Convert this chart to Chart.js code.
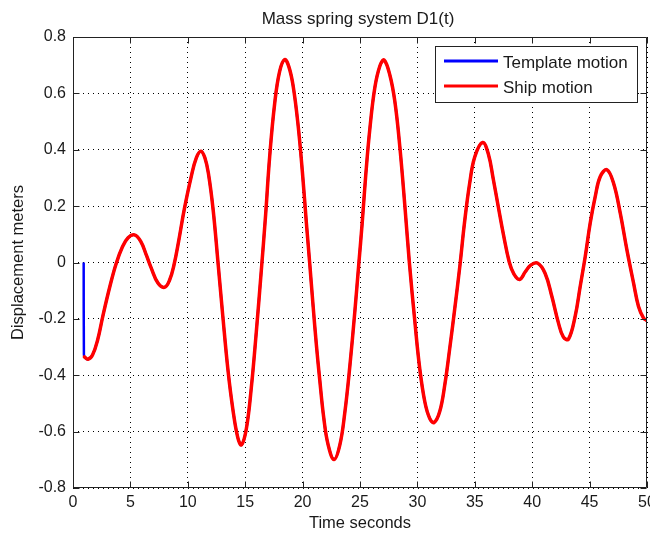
<!DOCTYPE html>
<html>
<head>
<meta charset="utf-8">
<title>Mass spring system D1(t)</title>
<script src="https://cdn.jsdelivr.net/npm/chart.js@4/dist/chart.umd.min.js"></script>
<style>
  html, body { margin: 0; padding: 0; background: #ffffff; }
  #wrap { width: 650px; height: 533px; }
  canvas { display: block; }
</style>
</head>
<body>
<div id="wrap"><canvas id="chart" width="650" height="533"></canvas></div>
<script>
// Time samples (seconds) and displacement (meters) of the ship response
const timeSec = [
  1.0, 1.3, 1.7, 2.15, 2.6, 3.2, 3.75, 4.3, 4.8, 5.35,
  5.9, 6.4, 6.8, 7.4, 7.97, 8.4, 8.8, 9.2, 9.7, 10.3,
  10.75, 11.15, 11.5, 11.8, 12.2, 12.62, 13.05, 13.5, 13.93, 14.36,
  14.68, 15.1, 15.53, 15.97, 16.4, 16.78, 17.13, 17.57, 18.0, 18.44,
  18.8, 19.17, 19.6, 19.98, 20.33, 20.62, 20.9, 21.2, 21.49, 21.84,
  22.22, 22.74, 23.24, 23.67, 24.11, 24.55, 24.9, 25.2, 25.51, 25.86,
  26.29, 26.73, 27.1, 27.6, 28.04, 28.47, 28.91, 29.3, 29.78, 30.2,
  30.65, 31.07, 31.45, 31.95, 32.4, 32.8, 33.25, 33.7, 34.1, 34.55,
  35.0, 35.68, 36.18, 36.6, 37.05, 37.5, 38.0, 38.4, 38.9, 39.4,
  39.85, 40.45, 41.12, 41.71, 42.29, 42.72, 43.16, 43.74, 44.18, 44.62,
  45.05, 45.49, 45.93, 46.51, 47.09, 47.67, 48.25, 48.83, 49.26, 49.7,
  50.0
];
const shipDisp = [
  -0.335, -0.343, -0.328, -0.274, -0.19, -0.087, -0.005, 0.055, 0.088, 0.098,
  0.075, 0.025, -0.018, -0.073, -0.088, -0.064, -0.008, 0.075, 0.19, 0.305,
  0.372, 0.395, 0.37, 0.315, 0.19, 0.005, -0.19, -0.382, -0.522, -0.622,
  -0.647, -0.59, -0.445, -0.245, -0.03, 0.17, 0.375, 0.565, 0.678, 0.72,
  0.695, 0.628, 0.49, 0.322, 0.14, -0.003, -0.147, -0.292, -0.415, -0.55,
  -0.646, -0.699, -0.648, -0.535, -0.37, -0.174, -0.003, 0.145, 0.315, 0.475,
  0.62, 0.697, 0.718, 0.665, 0.57, 0.41, 0.2, 0.0, -0.21, -0.375,
  -0.495, -0.553, -0.568, -0.528, -0.43, -0.31, -0.165, -0.012, 0.14, 0.28,
  0.375, 0.426, 0.385, 0.298, 0.197, 0.098, 0.002, -0.04, -0.06, -0.033,
  -0.01, -0.002, -0.038, -0.12, -0.215, -0.265, -0.272, -0.191, -0.085, 0.021,
  0.139, 0.234, 0.305, 0.329, 0.281, 0.175, 0.045, -0.073, -0.156, -0.197,
  -0.206
];
// The template starts at rest and jumps onto the same trajectory
const templateTime = [0.93, 0.95].concat(timeSec);
const templateDisp = [0, -0.32].concat(shipDisp);

const seriesNames = ['Template motion', 'Ship motion'];
const seriesColors = ['#0000ff', '#ff0000'];

const xTicks = [0, 5, 10, 15, 20, 25, 30, 35, 40, 45, 50];
const xTickLabels = ['0', '5', '10', '15', '20', '25', '30', '35', '40', '45', '50'];
const yTicks = [-0.8, -0.6, -0.4, -0.2, 0, 0.2, 0.4, 0.6, 0.8];
const yTickLabels = ['-0.8', '-0.6', '-0.4', '-0.2', '0', '0.2', '0.4', '0.6', '0.8'];

const chartTitle = 'Mass spring system D1(t)';
const xAxisTitle = 'Time seconds';
const yAxisTitle = 'Displacement meters';

const FONT = '"Liberation Sans", Arial, Helvetica, sans-serif';
const INK = '#1a1a1a';

function toPoints(xs, ys) {
  return xs.map((x, i) => ({ x: x, y: ys[i] }));
}

// Axes frame, inward tick marks, title and boxed legend
const framePlugin = {
  id: 'frame',
  afterDraw(chart) {
    const ctx = chart.ctx;
    const a = chart.chartArea;
    const xs = chart.scales.x, ys = chart.scales.y;
    const L = Math.round(a.left) + 0.5, R = Math.round(a.right) - 0.5;
    const T = Math.round(a.top) + 0.5, B = Math.round(a.bottom) - 0.5;
    const tick = 6;
    ctx.save();
    ctx.strokeStyle = '#222222';
    ctx.lineWidth = 1;
    ctx.setLineDash([]);
    ctx.beginPath();
    ctx.rect(L, T, R - L, B - T);
    xTicks.forEach(v => {
      const px = Math.round(xs.getPixelForValue(v)) + 0.5;
      ctx.moveTo(px, B); ctx.lineTo(px, B - tick);
      ctx.moveTo(px, T); ctx.lineTo(px, T + tick);
    });
    yTicks.forEach(v => {
      const py = Math.round(ys.getPixelForValue(v)) + 0.5;
      ctx.moveTo(L, py); ctx.lineTo(L + tick, py);
      ctx.moveTo(R, py); ctx.lineTo(R - tick, py);
    });
    ctx.stroke();

    // title
    ctx.fillStyle = INK;
    ctx.font = '17px ' + FONT;
    ctx.textAlign = 'center';
    ctx.textBaseline = 'alphabetic';
    ctx.fillText(chartTitle, (a.left + a.right) / 2 - 2, 24);

    // legend
    const lx = 435.5, ly = 46.5, lw = 202, lh = 56;
    ctx.fillStyle = '#ffffff';
    ctx.fillRect(lx, ly, lw, lh);
    ctx.strokeStyle = '#222222';
    ctx.strokeRect(lx, ly, lw, lh);
    chart.data.datasets.forEach((ds, i) => {
      const yy = 61 + i * 25;
      ctx.strokeStyle = ds.borderColor;
      ctx.lineWidth = 3;
      ctx.beginPath();
      ctx.moveTo(444, yy);
      ctx.lineTo(498, yy);
      ctx.stroke();
      ctx.fillStyle = INK;
      ctx.textAlign = 'left';
      ctx.font = '17px ' + FONT;
      ctx.fillText(ds.label, 503, yy + 7);
    });
    ctx.restore();
  }
};

new Chart(document.getElementById('chart'), {
  type: 'line',
  data: {
    datasets: [
      {
        label: seriesNames[0],
        data: toPoints(templateTime, templateDisp),
        borderColor: seriesColors[0],
        borderWidth: 2.5,
        pointRadius: 0,
        fill: false,
        tension: 0.4,
        order: 2
      },
      {
        label: seriesNames[1],
        data: toPoints(timeSec, shipDisp),
        borderColor: seriesColors[1],
        borderWidth: 3.5,
        pointRadius: 0,
        fill: false,
        tension: 0.4,
        borderJoinStyle: 'round',
        borderCapStyle: 'round',
        order: 1
      }
    ]
  },
  options: {
    responsive: false,
    devicePixelRatio: 1,
    animation: false,
    layout: { padding: { top: 37, right: 3, left: 0, bottom: 0 } },
    plugins: {
      legend: { display: false },
      title: { display: false },
      tooltip: { enabled: false }
    },
    scales: {
      x: {
        type: 'linear',
        min: 0,
        max: 50,
        afterBuildTicks: s => { s.ticks = xTicks.map(v => ({ value: v })); },
        afterFit: s => { s.height = 45; s.paddingLeft = 0; s.paddingRight = 0; },
        ticks: {
          autoSkip: false,
          maxRotation: 0,
          padding: 5,
          color: INK,
          font: { family: FONT, size: 16 },
          callback: (v, i) => xTickLabels[i]
        },
        grid: { color: '#000000', lineWidth: 1, drawTicks: false },
        border: { display: false, dash: [1, 4] },
        title: {
          display: true,
          text: xAxisTitle,
          color: INK,
          font: { family: FONT, size: 16.5 },
          padding: { top: 0, bottom: 0 }
        }
      },
      y: {
        type: 'linear',
        min: -0.8,
        max: 0.8,
        afterBuildTicks: s => { s.ticks = yTicks.map(v => ({ value: v })); },
        afterFit: s => { s.width = 73; s.paddingTop = 0; s.paddingBottom = 0; },
        ticks: {
          autoSkip: false,
          padding: 7,
          color: INK,
          font: { family: FONT, size: 16 },
          callback: (v, i) => yTickLabels[i]
        },
        grid: { color: '#000000', lineWidth: 1, drawTicks: false },
        border: { display: false, dash: [1, 4] },
        title: {
          display: true,
          text: yAxisTitle,
          color: INK,
          font: { family: FONT, size: 16.5 },
          padding: { top: 9, bottom: 0 }
        }
      }
    }
  },
  plugins: [framePlugin]
});
</script>
</body>
</html>
